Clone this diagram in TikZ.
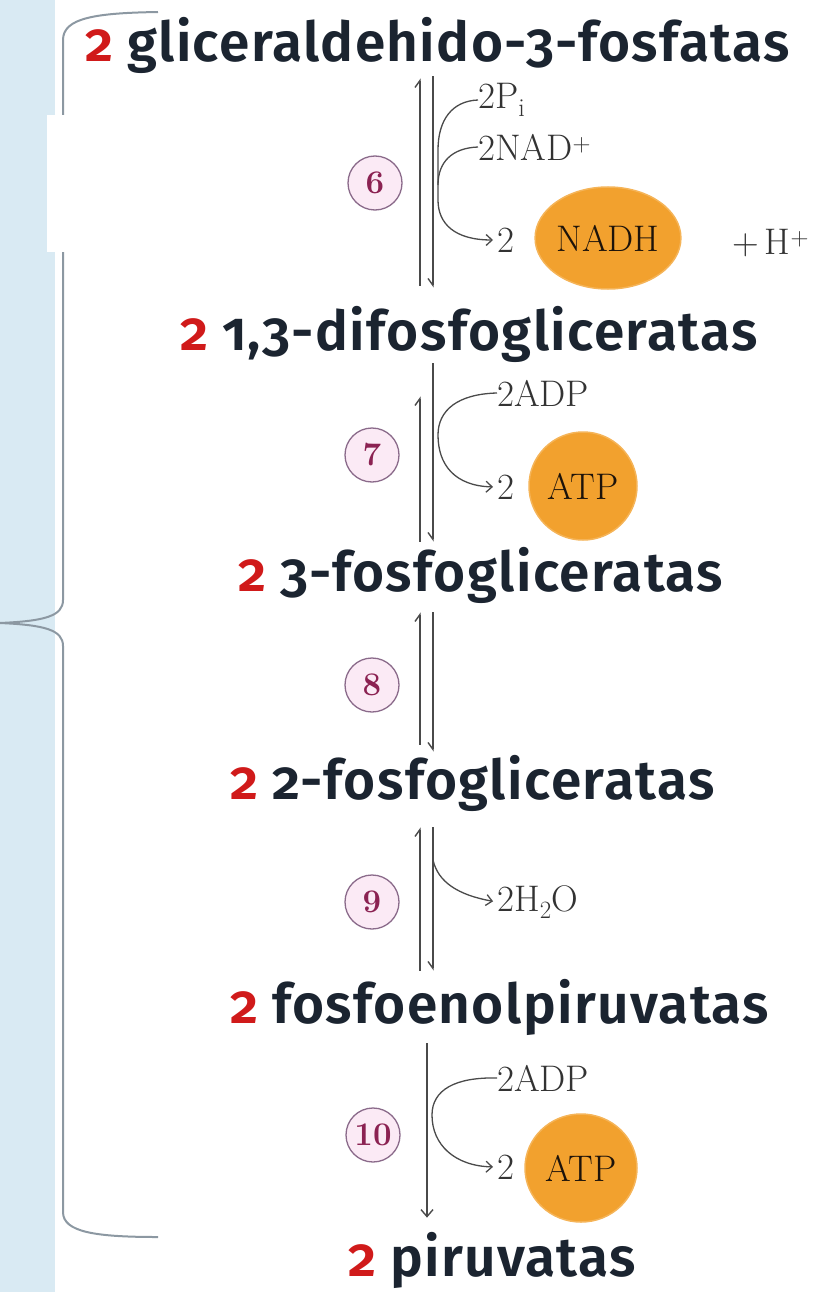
\documentclass[tikz,border=0pt]{standalone}
\usepackage{fontspec}
\newfontfamily\compfont{Fira Sans}[Numbers=OldStyle, LetterSpace=2.5, BoldFont={* SemiBold}]
\usetikzlibrary{arrows.meta}
\usetikzlibrary{shapes.geometric}
\definecolor{navy}{HTML}{1B2430}
\definecolor{redtwo}{HTML}{D01A1A}
\definecolor{arrowgray}{HTML}{4A4A4A}
\definecolor{bracegray}{HTML}{8C98A2}
\definecolor{stripblue}{HTML}{D9EAF3}
\definecolor{atporange}{HTML}{F2A12E}
\definecolor{numfill}{HTML}{FBEAF5}
\definecolor{numdraw}{HTML}{8A6A8A}
\definecolor{numtext}{HTML}{8B2252}
\newcommand{\two}{\textcolor{redtwo}{2}\hspace{0.25em}}
\tikzset{
    compound/.style={anchor=base west, inner sep=0pt, text=navy,
        font=\compfont\bfseries\fontsize{55}{66}\selectfont},
    chem/.style={anchor=west, inner sep=0pt, text=black!80,
        font=\fontsize{37}{40}\selectfont},
    energy/.style={circle, fill=atporange, draw=atporange!80, line width=1.5pt,
        minimum size=108pt, inner sep=0pt, text=black!85!brown,
        font=\fontsize{37}{40}\selectfont},
    stepnum/.style={circle, draw=numdraw, fill=numfill, line width=1.3pt,
        minimum size=54pt, inner sep=0pt, text=numtext,
        font=\bfseries\fontsize{33}{33}\selectfont},
    upharp/.style={draw=arrowgray, line width=1.4pt, -{Straight Barb[left,length=7pt,width=10pt]}},
    downharp/.style={draw=arrowgray, line width=1.4pt, -{Straight Barb[right,length=7pt,width=10pt]}},
    oneway/.style={draw=arrowgray, line width=1.4pt, -{Straight Barb[length=7pt,width=12pt]}},
    side/.style={draw=arrowgray, line width=1.3pt, -{Straight Barb[length=6pt,width=11pt]}, shorten >=4pt},
    sidejoin/.style={draw=arrowgray, line width=1.3pt},
    brace/.style={draw=bracegray, line width=2pt}
}
\begin{document}
\begin{tikzpicture}[x=1pt,y=-1pt]
\useasboundingbox (0,0) rectangle (813,1292);
\fill[stripblue] (0,0) rectangle (55,1292);

% brace
\draw[brace] (158,12) .. controls (95,13) and (63,18) .. (63,40) -- (63,600)
    .. controls (63,616) and (45,621) .. (0,623)
    .. controls (45,625) and (63,630) .. (63,646) -- (63,1212)
    .. controls (63,1232) and (95,1237) .. (158,1237);
\fill[white] (47,115) rectangle (330,252);

\coordinate (laneL) at (420,0);
\coordinate (laneR) at (433,0);
\coordinate (laneM) at (427,0);

\node[compound] (g3p) at (85,62) {\two gliceraldehido-3-fosfatas};
\node[compound] (bpg) at (180,350) {\two 1,3-difosfogliceratas};
\node[compound] (pg3) at (238,591) {\two 3-fosfogliceratas};
\node[compound] (pg2) at (230,799) {\two 2-fosfogliceratas};
\node[compound] (pep) at (230,1023) {\two fosfoenolpiruvatas};
\node[compound] (pyr) at (348,1276) {\two piruvatas};

% 6
\node[stepnum] (s6) at (375,183) {6};
\draw[upharp, shorten <=20pt, shorten >=4pt] (bpg.north -| laneL) -- (g3p.south -| laneL);
\draw[downharp, shorten <=2pt, shorten >=18pt] (g3p.south -| laneR) -- (bpg.north -| laneR);
\node[chem] (pi6) at (478,100) {2P$_\mathrm{i}$};
\node[chem] (nad6) at (478,147) {2NAD$^+$};
\node[chem] (two6) at (497,240) {2};
\node[energy, ellipse, minimum width=126pt, minimum height=102pt] (nadh) at (608,238) {NADH};
\node[chem] (hp6) at (732,243) {+\,H$^+$};
\draw[side] (pi6.west) .. controls (452,101) and (438,120) .. (438,150) -- (438,200)
    .. controls (438,224) and (455,240) .. (two6.west);
\draw[sidejoin] (nad6.west) .. controls (452,148) and (438,162) .. (438,185);

% 7
\node[stepnum] (s7) at (372,455) {7};
\draw[upharp, shorten <=5pt, shorten >=34pt] (pg3.north -| laneL) -- (bpg.south -| laneL);
\draw[downharp, shorten <=1pt, shorten >=5pt] (bpg.south -| laneR) -- (pg3.north -| laneR);
\node[chem] (adp7) at (497,393) {2ADP};
\node[chem] (two7) at (497,487) {2};
\node[energy] (atp7) at (583,486) {ATP};
\draw[side] (adp7.west) .. controls (458,394) and (438,410) .. (438,435)
    .. controls (438,465) and (455,486) .. (two7.west);

% 8
\node[stepnum] (s8) at (372,685) {8};
\draw[upharp, shorten <=10pt, shorten >=9pt] (pg2.north -| laneL) -- (pg3.south -| laneL);
\draw[downharp, shorten <=9pt, shorten >=3pt] (pg3.south -| laneR) -- (pg2.north -| laneR);

% 9
\node[stepnum] (s9) at (372,902) {9};
\draw[upharp, shorten <=8pt, shorten >=16pt] (pep.north -| laneL) -- (pg2.south -| laneL);
\draw[downharp, shorten <=16pt, shorten >=8pt] (pg2.south -| laneR) -- (pep.north -| laneR);
\coordinate (br9) at (433,860);
\node[chem] (h2o) at (497,902) {2H$_2$O};
\draw[side] (br9) .. controls (438,882) and (458,895) .. (h2o.west);

% 10
\node[stepnum] (s10) at (373,1135) {10};
\draw[oneway, shorten <=8pt, shorten >=14pt] (pep.south -| laneM) -- (pyr.north -| laneM);
\node[chem] (adp10) at (497,1078) {2ADP};
\node[chem] (two10) at (497,1167) {2};
\node[energy, ellipse, minimum width=112pt, minimum height=108pt] (atp10) at (581,1168) {ATP};
\draw[side] (adp10.west) .. controls (455,1077) and (432,1090) .. (432,1115)
    .. controls (432,1145) and (455,1166) .. (two10.west);
\end{tikzpicture}
\end{document}
